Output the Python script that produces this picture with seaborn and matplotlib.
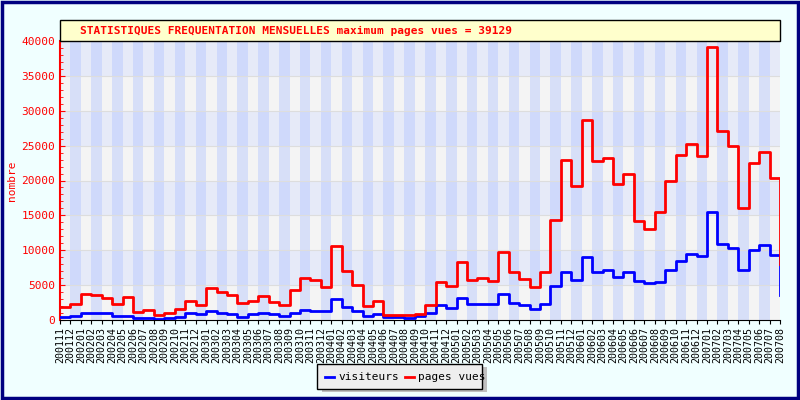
import matplotlib
matplotlib.use("Agg")
import matplotlib.pyplot as plt
from matplotlib.patches import Rectangle
import seaborn as sns
import pandas as pd
import numpy as np

months = []
for y in range(2001, 2008):
    for m in range(1, 13):
        if (y == 2001 and m < 11) or (y == 2007 and m > 8):
            continue
        months.append(f"{y}{m:02d}")

pages = [1900, 2250, 3770, 3630, 3200, 2340, 3340, 1150, 1430, 760, 1050, 1620,
         2770, 2200, 4630, 4010, 3630, 2480, 2720, 3480, 2580, 2200, 4300, 6060,
         5730, 4770, 10600, 7020, 5010, 2050, 2720, 760, 720, 650, 900, 2100,
         5490, 4920, 8350, 5730, 6060, 5580, 9780, 6920, 5920, 4770, 6920, 14370,
         22900, 19240, 28690, 22770, 23250, 19520, 20950, 14130, 13080, 15420, 19950, 23680,
         25250, 23580, 39129, 27060, 24960, 16080, 22530, 24060, 20330, 8100]
visiteurs = [480, 620, 1000, 1000, 1000, 620, 620, 330, 330, 150, 330, 480,
             1000, 810, 1340, 1050, 900, 480, 900, 1050, 810, 620, 1050, 1480,
             1340, 1340, 3050, 1900, 1340, 620, 810, 480, 480, 330, 570, 1050,
             2200, 1770, 3200, 2340, 2340, 2340, 3770, 2480, 2200, 1580, 2340, 4920,
             6920, 5780, 9070, 6870, 7210, 6200, 6920, 5580, 5300, 5440, 7210, 8500,
             9450, 9160, 15420, 10930, 10360, 7210, 10070, 10790, 9350, 3530]

n = len(months)
df = pd.DataFrame({"x": list(range(n)) * 2,
                   "val": visiteurs + pages,
                   "serie": ["visiteurs"] * n + ["pages vues"] * n})

mono = "DejaVu Sans Mono"
fig = plt.figure(figsize=(8, 4), dpi=100, facecolor="#F0FFFF")
fig.patches.append(Rectangle((0.002, 0.004), 0.996, 0.992, transform=fig.transFigure,
                             fill=False, edgecolor="#000080", linewidth=2.5))
ax = fig.add_axes([0.075, 0.2, 0.9, 0.6975])
ax.set_xlim(0, n - 1)
ax.set_ylim(0, 40000)

for i, y0 in enumerate(range(0, 40000, 5000)):
    ax.axhspan(y0, y0 + 5000, color="#F4F4F4" if i % 2 == 0 else "#E6EAF8", zorder=0, lw=0)
for i in range(n - 1):
    if i % 2 == 1:
        ax.axvspan(i, i + 1, color="#B4C6FF", alpha=0.45, zorder=0.5, lw=0)
for y0 in range(5000, 40000, 5000):
    ax.axhline(y0, color="#DDDDDD", lw=0.8, zorder=0.6)

sns.lineplot(data=df, x="x", y="val", hue="serie",
             palette={"visiteurs": "#0000FF", "pages vues": "#FF0000"},
             drawstyle="steps-post", linewidth=2, ax=ax, legend=False, zorder=3)

ax.set_xticks(range(n))
ax.set_xticklabels(months, rotation=90, fontfamily=mono, fontsize=7.2)
ax.set_yticks(range(0, 40001, 5000))
ax.set_yticklabels([str(v) for v in range(0, 40001, 5000)], fontfamily=mono, fontsize=8, color="red")
ax.set_yticks(range(0, 40001, 1000), minor=True)
ax.tick_params(axis="y", which="both", color="red", direction="in")
ax.tick_params(axis="x", length=3, color="black", pad=2)
ax.set_xlabel("")
ax.set_ylabel("nombre", color="red", fontfamily=mono, fontsize=8, labelpad=-2)
ax.yaxis.set_label_coords(-0.06, 0.5)
for s in ["top", "right"]:
    ax.spines[s].set_visible(False)
ax.spines["left"].set_color("red")
ax.spines["left"].set_linewidth(1.5)
ax.spines["bottom"].set_color("black")

# title box
fig.patches.append(Rectangle((0.075, 0.8975), 0.9, 0.0525, transform=fig.transFigure,
                             facecolor="#FFFFCC", edgecolor="black", lw=1))
fig.text(0.1, 0.923, "STATISTIQUES FREQUENTATION MENSUELLES maximum pages vues = 39129",
         color="red", fontfamily=mono, fontsize=8, fontweight="bold", va="center")

# legend
fig.patches.append(Rectangle((0.402, 0.02), 0.207, 0.0625, transform=fig.transFigure,
                             facecolor="#C0C0C0", edgecolor="none"))
fig.patches.append(Rectangle((0.396, 0.0275), 0.207, 0.0625, transform=fig.transFigure,
                             facecolor="#EEEEEE", edgecolor="black", lw=1))
fig.lines.append(plt.Line2D([0.406, 0.418], [0.058, 0.058], transform=fig.transFigure, color="#0000FF", lw=2))
fig.text(0.423, 0.058, "visiteurs", fontfamily=mono, fontsize=8, va="center")
fig.lines.append(plt.Line2D([0.506, 0.518], [0.058, 0.058], transform=fig.transFigure, color="#FF0000", lw=2))
fig.text(0.522, 0.058, "pages vues", fontfamily=mono, fontsize=8, va="center")

fig.savefig("out.png", dpi=100, facecolor=fig.get_facecolor())
